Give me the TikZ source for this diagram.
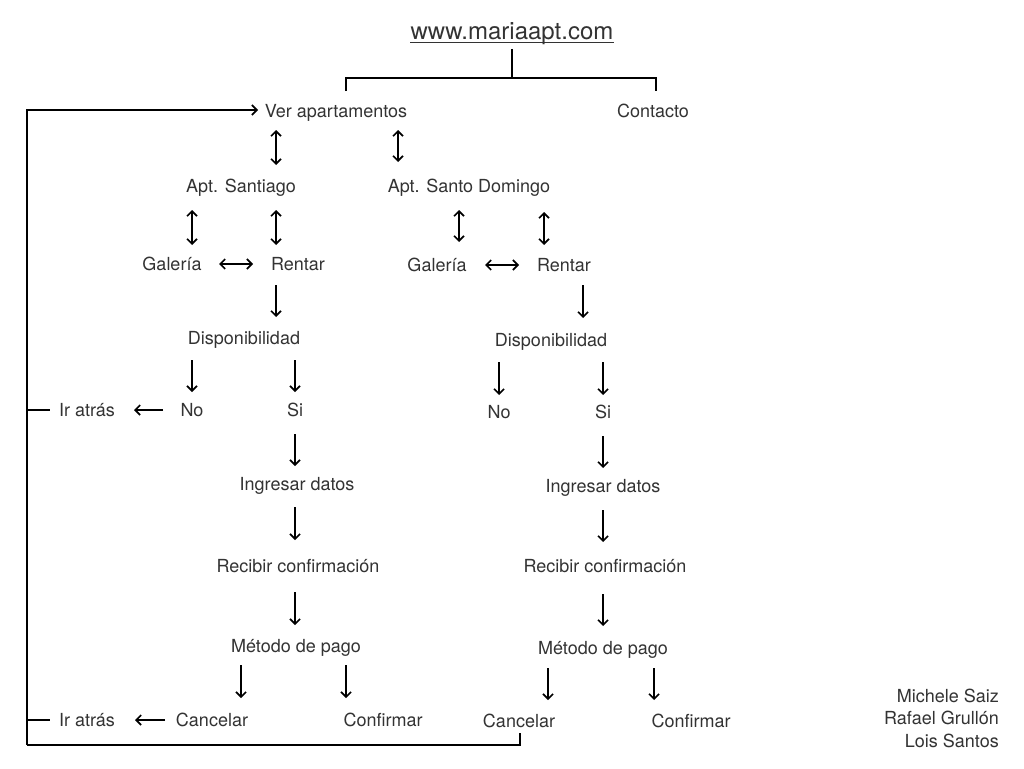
\documentclass[tikz,border=0pt]{standalone}
\usepackage{fontspec}
\setmainfont{TeX Gyre Heros}
\usetikzlibrary{arrows.meta,calc}
\begin{document}
\begin{tikzpicture}[x=1pt,y=-1pt,
  lbl/.style={inner sep=0pt, text height=13pt, text depth=0pt, font=\fontsize{18}{20}\selectfont, text=black!80},
  ln/.style={line width=1.6pt},
  ar/.style={line width=1.6pt, -{Straight Barb[length=5pt,width=10pt]}},
  arr/.style={line width=1.6pt, {Straight Barb[length=5pt,width=10pt]}-{Straight Barb[length=5pt,width=10pt]}}]
\useasboundingbox[fill=white] (0,0) rectangle (1024,768);

% title and top tree
\node[lbl, text height=17pt, font=\fontsize{24}{26}\selectfont] (www) at (512,31) {www.mariaapt.com};
\draw[line width=1pt, black!80] ($(www.south west)+(0,3)$) -- ($(www.south east)+(0,3)$);
\coordinate (t0) at (512,49);
\coordinate (t1) at (512,78);
\coordinate (tl) at (346,78);
\coordinate (tr) at (656,78);
\coordinate (tl2) at (346,91);
\coordinate (tr2) at (656,91);
\draw[ln] (t0) -- (t1);
\draw[ln] (tl2) -- (tl) -- (tr) -- (tr2);

% text nodes
\node[lbl] (ver) at (336,111) {Ver apartamentos};
\node[lbl] (contacto) at (653,111) {Contacto};
\node[lbl] (aptS) at (241,186) {Apt. Santiago};
\node[lbl] (aptD) at (469,186) {Apt. Santo Domingo};
\node[lbl] (galL) at (172,264) {Galería};
\node[lbl] (renL) at (298,264) {Rentar};
\node[lbl] (galR) at (437,265) {Galería};
\node[lbl] (renR) at (564,265) {Rentar};
\node[lbl] (dispL) at (244,338) {Disponibilidad};
\node[lbl] (dispR) at (551,340) {Disponibilidad};
\node[lbl] (irL1) at (87,410) {Ir atrás};
\node[lbl] (noL) at (192,410) {No};
\node[lbl] (siL) at (295,410) {Si};
\node[lbl] (noR) at (499,412) {No};
\node[lbl] (siR) at (603,412) {Si};
\node[lbl] (ingL) at (297,484) {Ingresar datos};
\node[lbl] (ingR) at (603,486) {Ingresar datos};
\node[lbl] (recL) at (298,566) {Recibir confirmación};
\node[lbl] (recR) at (605,566) {Recibir confirmación};
\node[lbl] (metL) at (296,646) {Método de pago};
\node[lbl] (metR) at (603,648) {Método de pago};
\node[lbl] (irL2) at (87,720) {Ir atrás};
\node[lbl] (canL) at (212,720) {Cancelar};
\node[lbl] (conL) at (383,720) {Confirmar};
\node[lbl] (canR) at (519,721) {Cancelar};
\node[lbl] (conR) at (691,721) {Confirmar};
\node[lbl, anchor=east] (cr1) at (999,696) {Michele Saiz};
\node[lbl, anchor=east] (cr2) at (999,718) {Rafael Grullón};
\node[lbl, anchor=east] (cr3) at (999,741) {Lois Santos};

% double vertical arrows
\foreach \n/\x/\ya/\yb in {d1/276/130/165, d2/398/130/162, d3/192/210/245, d4/276/210/245, d5/459/210/242, d6/544/212/245}{
  \coordinate (\n a) at (\x,\ya);
  \coordinate (\n b) at (\x,\yb);
  \draw[arr] (\n a) -- (\n b);
}
% double horizontal arrows
\foreach \n/\xa/\xb/\y in {h1/219/253/264, h2/485/519/265}{
  \coordinate (\n a) at (\xa,\y);
  \coordinate (\n b) at (\xb,\y);
  \draw[arr] (\n a) -- (\n b);
}
% single down arrows
\foreach \n/\x/\ya/\yb in {s1/276/285/317, s2/583/285/318, s3/192/360/392, s4/295/360/392, s5/499/362/395, s6/603/362/395, s7/295/434/466, s8/603/436/468, s9/295/507/540, s10/603/510/542, s11/295/592/625, s12/603/594/626, s13/241/665/698, s14/346/665/698, s15/548/668/700, s16/654/668/700}{
  \coordinate (\n a) at (\x,\ya);
  \coordinate (\n b) at (\x,\yb);
  \draw[ar] (\n a) -- (\n b);
}
% left arrows to Ir atras
\coordinate (l1a) at (163,410);
\coordinate (l1b) at (134,410);
\draw[ar] (l1a) -- (l1b);
\coordinate (l2a) at (165,720);
\coordinate (l2b) at (135,720);
\draw[ar] (l2a) -- (l2b);

% loop back
\coordinate (lp0) at (27,745);
\coordinate (lp1) at (27,110);
\coordinate (lp2) at (258,110);
\coordinate (lp3) at (520,745);
\coordinate (lp4) at (520,733);
\coordinate (k1a) at (27,410);
\coordinate (k1b) at (50,410);
\coordinate (k2a) at (27,720);
\coordinate (k2b) at (50,720);
\draw[ar] (lp0) -- (lp1) -- (lp2);
\draw[ln] (lp0) -- (lp3) -- (lp4);
\draw[ln] (k1a) -- (k1b);
\draw[ln] (k2a) -- (k2b);
\end{tikzpicture}
\end{document}
